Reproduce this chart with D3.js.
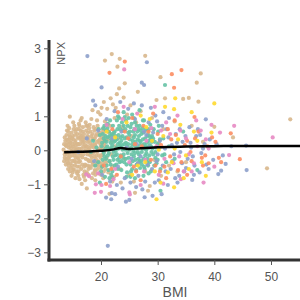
<!DOCTYPE html>
<html><head><meta charset="utf-8">
<script src="https://cdn.jsdelivr.net/npm/d3@7"></script>
<style>body{margin:0;background:#fff}svg{display:block}text{font-family:"Liberation Sans",Arial,sans-serif}</style>
</head><body><svg id="c" width="300" height="300"></svg>
<script>
const xTicks=[20,30,40,50];
const yTicks=[-3,-2,-1,0,1,2,3];
const tanPts=[[13.4,0.02],[13.6,-0.12],[13.8,0.15],[13.9,-0.25],[14.0,0.31],[14.1,-0.05],[14.2,-0.38],[14.3,0.08],[14.4,0.45],[14.5,-0.18],[14.6,0.22],[14.7,-0.52],[14.8,-0.02],[14.9,0.36],[15.0,-0.31],[15.1,0.12],[15.2,0.62],[15.3,-0.15],[15.4,-0.44],[15.5,0.28],[15.6,0.02],[15.7,-0.62],[15.8,0.48],[15.9,-0.22],[14.5,0.99],[16.6,0.95],
[16.0,0.18],[16.1,-0.35],[16.2,0.72],[16.3,-0.08],[16.4,0.38],[16.5,-0.55],[16.6,0.05],[16.7,-0.21],[16.8,0.55],[16.9,-0.72],[17.0,0.25],[17.1,-0.02],[17.2,-0.42],[17.3,0.82],[17.4,0.12],[17.5,-0.65],[17.6,0.42],[17.7,-0.28],[17.8,0.02],[17.9,0.65],[18.0,-0.48],[18.1,0.21],[18.2,-0.12],[18.3,0.92],[18.4,-0.82],[18.5,0.35],[18.6,-0.35],[18.7,0.08],[18.8,0.58],[18.9,-0.58],[16.6,-0.99],[17.5,-1.12],[15.8,-0.68],[16.2,-0.85],[17.0,-0.78],[16.8,0.68],[17.6,0.72],[16.3,0.48],[15.5,0.55],[17.2,0.35],[18.0,0.75],[16.0,-0.62],[17.8,-0.55],[15.2,-0.55],[14.8,-0.75],
[19.0,0.15],[19.1,-0.25],[19.2,0.48],[19.3,-0.05],[19.4,0.72],[19.5,-0.45],[19.6,0.28],[19.7,-0.68],[19.8,0.02],[19.9,1.05],[20.0,-0.15],[20.1,0.38],[20.2,-0.38],[20.3,0.62],[20.4,-0.82],[20.5,0.18],[20.6,-0.02],[20.7,0.85],[20.8,-0.55],[20.9,0.32],[21.0,-0.22],[21.1,1.22],[21.2,0.05],[21.3,-0.65],[21.4,0.52],[21.5,-0.32],[21.6,0.72],[21.7,1.53],[21.8,-0.12],[21.9,0.25],[22.0,-0.48],[22.1,1.35],[22.2,0.45],[22.3,-0.78],[22.4,0.95],[22.5,0.12],[20.1,1.25],[20.7,2.64],[21.9,2.83],[22.9,2.46],[23.3,2.69],[24.2,1.97],[19.5,1.12],[20.5,1.42],[22.8,1.65],[23.2,1.82],[22.6,1.25],
[23.0,0.35],[23.4,-0.55],[23.8,0.68],[24.2,-0.25],[24.6,1.05],[25.0,-0.72],[25.4,0.42],[25.8,-0.92],[26.2,0.82],[26.6,-0.38],[27.0,1.15],[27.4,0.15],[27.8,-0.62],[28.2,0.55],[28.6,-1.05],[29.0,0.95],[29.4,-0.28],[29.8,1.48],[30.2,0.22],[30.6,-0.75],[31.0,0.62],[31.3,1.53],[32.0,-0.45],[33.0,0.85],[34.5,1.51],[35.5,1.54],[36.9,1.99],[37.2,1.43],[37.6,2.26],[30.5,2.15],[27.8,2.78],[26.0,-1.25],[28.3,-1.19],[21.5,-1.28],[40.0,0.69],[43.3,0.38],[49.3,-0.53],[53.4,0.91],[35.0,-0.35],[38.0,0.25],[36.0,0.72],[33.5,-0.62],[25.2,1.32],[24.0,1.55],[26.5,1.72],[23.5,-0.95],[22.0,-0.92],[19.0,-0.88],[18.5,1.18],
[13.5,-0.32],[13.7,0.28],[14.0,-0.12],[14.2,0.55],[14.4,-0.28],[14.6,0.12],[14.9,-0.45],[15.0,0.42],[15.3,0.05],[15.6,-0.35],[15.8,0.18],[16.1,0.62],[16.4,-0.15],[16.7,0.32],[17.0,-0.48],[17.3,0.05],[17.6,-0.12],[17.9,0.28],[18.2,-0.32],[18.5,0.15],[18.8,-0.18],[19.1,0.42],[19.4,-0.32],[19.7,0.22],[20.0,-0.52],[20.3,0.08],[20.6,0.45],[20.9,-0.38],[21.2,0.32],[21.5,0.02],[14.1,0.72],[15.1,0.82],[14.5,-0.62],[15.5,-0.82],[16.4,0.88],[17.2,-0.88],[18.6,-0.68],[19.3,0.88],[13.9,0.45],[14.3,-0.45],[15.9,0.38],[16.9,0.12],[17.7,0.52],[18.3,0.42],[19.6,-0.15],[20.4,0.28],[21.0,0.58],[21.8,0.42],[16.3,-0.32],[15.4,-0.08],
[13.6,0.38],[13.7,-0.05],[13.8,-0.42],[13.9,0.12],[14.0,0.58],[14.1,0.22],[14.2,-0.22],[14.3,0.32],[14.4,-0.08],[14.5,0.38],[14.6,-0.38],[14.7,0.05],[14.8,0.52],[14.9,-0.15],[15.0,0.18],[15.1,-0.58],[15.2,0.32],[15.3,-0.32],[15.4,0.45],[15.5,-0.22],[15.6,0.15],[15.7,0.62],[15.8,-0.48],[15.9,0.05],[16.0,-0.25],[16.1,0.35],[16.2,-0.48],[16.3,0.18],[16.4,0.58],[16.5,-0.05],[16.6,0.42],[16.7,-0.42],[16.8,0.22],[16.9,-0.12],[17.0,0.48],[17.1,-0.62],[17.2,0.15],[17.3,-0.25],[17.4,0.58],[17.5,-0.05],[17.6,0.25],[17.7,-0.45],[17.8,0.38],[17.9,-0.32],[18.0,0.05],[18.1,0.55],[18.2,-0.52],[18.3,0.12],[18.4,-0.22],[18.5,0.48],[18.6,-0.08],[18.7,0.32],[18.8,-0.45],[18.9,0.18],[19.0,-0.62],[19.1,0.62],[19.2,-0.15],[19.3,0.25],[19.4,-0.55],[19.5,0.05],[19.6,0.45],[19.7,-0.35],[19.8,0.32],[19.9,-0.22],[20.0,0.15],[20.1,-0.45],[20.2,0.52],[20.3,-0.12],[20.4,0.35],[20.5,-0.62],[20.6,0.22],[20.7,-0.32],[20.8,0.12],[13.5,0.18],[13.6,-0.22],[14.0,-0.32],[14.3,0.18],[14.7,0.28],[15.0,-0.05],[15.4,0.22],[15.8,-0.12],[16.2,0.05],[16.5,0.28],[16.9,0.38],[17.3,-0.45],[17.7,0.12],[18.1,-0.15],[18.5,-0.42],[18.9,0.35],[19.3,-0.38],[19.7,0.52],[20.1,0.05],[20.5,0.55],[14.4,0.65],[15.3,0.72],[16.1,0.78],[17.4,0.72],[18.7,0.68],[14.2,-0.55],[15.0,-0.65],[16.0,-0.75],[17.8,-0.72],[19.0,-0.72],[20.0,-0.72]];
const greenPts=[[19.2,0.08],[19.5,-0.35],[19.8,0.45],[20.0,-0.62],[20.2,0.22],[20.4,0.65],[20.6,-0.18],[20.8,0.05],[21.0,-0.45],[21.2,0.38],[21.4,-0.08],[21.6,0.88],[21.8,-0.72],[22.0,0.15],[22.2,-0.28],[22.4,0.55],[22.6,-0.02],[22.8,0.32],[23.0,-0.55],[23.2,0.72],[23.4,0.12],[23.6,-0.32],[23.8,0.42],[24.0,-0.12],[24.2,0.98],[24.4,0.22],[24.6,-0.65],[24.8,0.52],[25.0,0.02],[25.2,-0.42],[25.4,0.78],[25.6,0.28],[25.8,-0.18],[26.0,0.45],[26.2,-0.58],[26.4,0.08],[26.6,0.62],[26.8,-0.32],[27.0,0.25],[27.2,-0.05],[27.4,0.88],[27.6,-0.48],[27.8,0.35],[28.0,0.02],[28.2,-0.25],[28.4,0.62],[28.6,0.15],[28.8,-0.62],[29.0,0.42],[29.2,-0.12],[29.5,0.25],[29.8,-0.38],[30.1,0.55],[30.5,-1.19],[31.3,1.92],[19.8,-0.95],[20.5,0.35],[21.1,0.12],[21.5,-0.32],[21.9,0.48],[22.3,0.25],[22.7,-0.42],[23.1,0.05],[23.5,0.38],[23.9,-0.22],[24.3,0.62],[24.7,-0.08],[25.1,0.32],[25.5,-0.55],[25.9,0.15],[26.3,0.72],[26.7,-0.12],[27.1,0.48],[27.5,-0.25],[27.9,0.12],[28.3,-0.45],[28.7,0.38],[29.1,0.05],[29.6,-0.22],[30.0,0.18],[20.3,-0.28],[20.9,0.58],[21.3,-0.58],[21.7,0.22],[22.1,0.72],[22.5,-0.15],[22.9,0.62],[23.3,-0.35],[23.7,0.82],[24.1,0.18],[24.5,-0.42],[24.9,0.95],[25.3,0.08],[25.7,0.55],[26.1,-0.28],[26.5,0.32],[26.9,-0.52],[27.3,0.65],[27.7,0.05],[28.1,-0.35],[28.5,0.28],[28.9,-0.05],[29.3,0.62],[29.7,0.08],[24.0,1.12],[25.5,1.05],[23.0,1.0],[26.8,1.18],[22.0,-0.8],[24.5,-0.78],[26.0,-0.82],[27.5,-0.75],[20.7,-0.78],[30.5,-0.55],[31.0,0.35],[30.8,-0.15],[31.5,-0.35],[32.0,0.12],[33.0,-0.25],[34.5,0.55],[37.0,-0.58],[19.6,0.62],[19.0,-0.45],[18.6,0.28],[18.2,-0.05],
[20.1,0.12],[20.3,0.48],[20.5,-0.08],[20.7,0.28],[20.9,-0.25],[21.1,0.65],[21.3,0.02],[21.5,0.42],[21.7,-0.42],[21.9,0.08],[22.1,-0.18],[22.3,0.52],[22.5,0.28],[22.7,0.08],[22.9,-0.28],[23.1,0.45],[23.3,0.22],[23.5,-0.15],[23.7,0.15],[23.9,0.58],[24.1,-0.35],[24.3,0.02],[24.5,0.38],[24.7,0.72],[24.9,-0.22],[25.1,0.55],[25.3,-0.62],[25.5,0.18],[25.7,-0.02],[25.9,0.62],[26.1,0.25],[26.3,-0.42],[26.5,-0.05],[26.7,0.42],[26.9,0.15],[27.1,-0.32],[27.3,0.05],[27.5,0.52],[27.7,-0.55],[27.9,0.62],[28.1,0.22],[28.3,0.08],[28.5,-0.15],[28.7,0.75],[28.9,0.32],[20.2,-0.48],[20.6,0.72],[21.0,0.25],[21.4,0.55],[21.8,0.32],[22.2,-0.05],[22.6,0.42],[23.0,0.18],[23.4,0.62],[23.8,0.02],[24.2,0.35],[24.6,0.12],[25.0,0.45],[25.4,-0.12],[25.8,0.38],[26.2,0.05],[26.6,-0.25],[27.0,0.58],[27.4,0.32],[27.8,-0.15],[28.2,0.42],[28.6,-0.35],[29.0,0.25],[21.2,-0.15],[21.6,0.05],[22.0,0.45],[22.4,-0.45],[22.8,-0.12],[23.2,-0.22],[23.6,0.28],[24.0,0.72],[24.4,-0.25],[24.8,0.18],[25.2,0.68],[25.6,-0.32],[26.0,-0.08],[26.4,0.55],[26.8,0.28],[27.2,-0.42],[27.6,0.18],[28.0,-0.08],[28.4,0.45],[28.8,0.12],[29.2,0.35],[29.6,-0.05],[20.4,-0.02],[20.8,0.42],[21.2,0.78],[22.0,-0.62],[22.8,0.88],[23.6,-0.58],[24.4,0.88],[25.2,-0.78],[26.0,0.82],[26.8,0.72],[27.6,0.88],[28.4,-0.68],[23.2,0.95],[25.8,0.95],[21.5,-0.82],[30.0,-0.28],[30.4,0.32],[29.4,-0.45],[30.2,0.72],[31.2,-0.12]];
const bluePts=[[17.6,2.77],[28.1,2.59],[20.1,1.85],[27.2,1.99],[27.6,1.92],[18.6,1.46],[21.2,-2.81],[20.9,-1.39],[21.8,-1.44],[22.5,-1.29],[21.9,-1.26],[24.4,-1.51],[25.0,-1.46],[27.7,-1.38],[29.1,-1.34],[30.7,-1.29],[36.1,-0.87],[40.7,-0.70],[41.2,-0.60],[42.0,-0.40],[45.7,-0.58],[38.5,0.91],[45.6,0.14],[16.0,-0.05],[17.5,0.35],[18.8,-0.32],[19.5,0.58],[20.2,-0.72],[21.0,0.92],[21.6,-0.92],[22.4,1.15],[23.0,-0.48],[23.6,0.55],[24.2,-0.82],[24.8,1.22],[25.4,-0.25],[26.0,0.92],[26.6,-0.75],[27.2,1.32],[27.8,-0.92],[28.4,0.82],[29.0,-0.55],[29.6,1.02],[30.2,-0.88],[30.8,0.72],[31.4,-0.62],[32.0,0.95],[32.6,-0.32],[33.2,0.48],[33.8,-0.75],[34.4,0.25],[35.0,-0.52],[35.6,0.68],[36.2,-0.18],[36.8,0.42],[37.4,-0.65],[38.0,0.05],[38.6,-0.42],[39.2,0.32],[39.8,-0.28],[40.4,0.18],[41.5,-0.15],[43.0,0.12],[19.0,1.32],[23.4,1.42],[25.8,1.38],[28.8,1.25],[31.0,1.12],[22.0,0.35],[24.5,0.08],[26.5,-0.38],[28.0,0.45],[30.0,-0.12],[32.5,0.15],[34.0,-0.05],[35.8,0.22],[37.5,0.45],[29.5,-0.95],[31.8,-1.02],[33.5,-0.95],[26.2,-1.08],[23.8,-1.12],
[26.3,0.18],[27.0,-0.18],[27.6,0.55],[28.2,-0.42],[28.6,0.08],[29.2,0.52],[29.8,-0.32],[30.4,0.28],[30.9,-0.45],[31.3,0.05],[31.9,0.38],[32.3,-0.55],[32.9,-0.12],[33.4,0.22],[33.9,0.62],[34.3,-0.38],[34.9,0.42],[35.3,-0.25],[35.9,0.08],[36.5,-0.45],[37.1,0.62],[37.7,-0.08],[38.3,0.18],[39.0,-0.55],[29.9,0.85],[31.6,0.62],[33.1,-0.82],[34.7,-0.62],[36.4,-0.72],[25.2,-0.95],[27.3,-1.15],[22.8,-1.02]];
const orangePts=[[24.2,2.61],[21.5,2.28],[32.5,2.24],[34.2,2.36],[32.9,1.84],[20.9,-0.99],[42.9,0.50],[44.5,-0.26],[20.5,-0.45],[22.0,0.62],[23.5,-0.18],[24.8,0.35],[26.2,-0.62],[27.5,0.72],[28.8,-0.28],[30.0,0.48],[31.2,-0.48],[32.4,0.32],[33.6,-0.58],[34.8,0.15],[36.0,-0.32],[37.2,0.55],[38.4,-0.15],[39.6,0.38],[40.8,-0.22],[25.5,0.95],[29.2,1.08],[33.0,0.88],[36.5,0.98],[27.0,-0.88],[31.5,-0.82],[35.2,-0.72],[38.0,-0.45],[23.0,1.12],[22.8,-0.72],[39.0,-0.38],[37.8,-0.22],[26.0,0.18],
[28.4,0.55],[29.6,-0.45],[30.6,0.15],[31.8,0.62],[32.2,-0.18],[33.2,0.45],[34.2,-0.35],[35.2,0.28],[35.8,-0.05],[36.6,0.35],[38.8,0.12],[30.4,-0.62],[27.2,0.12],[25.8,-0.48],[24.2,0.55],[21.8,-0.55],[40.2,0.25],[41.2,-0.35]];
const pinkPts=[[24.1,2.38],[19.1,-1.0],[20.1,-1.02],[18.9,-1.25],[20.0,-1.22],[21.6,-1.05],[25.0,-1.24],[25.1,-1.30],[17.9,-0.76],[17.4,-0.71],[34.1,-0.85],[38.1,-0.95],[42.6,-0.14],[43.5,0.72],[50.3,0.38],[41.0,0.52],[21.0,0.75],[22.5,-0.55],[23.8,0.92],[25.0,-0.35],[26.4,1.08],[27.6,-0.62],[28.9,0.65],[30.2,-0.72],[31.5,0.82],[32.8,-0.38],[34.0,0.58],[35.5,-0.12],[36.8,0.88],[38.5,0.32],[40.0,-0.48],[39.5,0.75],[29.5,1.28],[33.5,1.02],[24.0,1.28],[19.5,-0.68],[27.0,-1.02],[31.0,-0.98],[36.0,-0.62],[28.0,0.28],[37.0,0.12],
[29.8,0.12],[31.2,-0.25],[32.2,0.48],[33.8,-0.18],[35.0,0.35],[36.4,-0.38],[37.6,0.58],[30.6,0.58],[27.8,-0.28],[26.0,0.62],[34.6,-0.62],[22.2,-0.85],[39.0,0.05]];
const yellowPts=[[33.1,1.53],[40.0,1.38],[31.3,1.28],[32.9,1.21],[32.9,-1.09],[29.8,-1.44],[30.5,-0.95],[24.5,0.82],[26.5,-0.45],[28.0,0.68],[29.5,-0.62],[31.0,0.42],[32.5,-0.35],[34.0,0.75],[35.5,-0.55],[37.0,0.28],[38.5,-0.75],[27.0,1.02],[25.5,-0.72],[22.5,0.38],[36.0,1.12],[21.0,0.55],[33.0,0.05],[39.5,0.52],
[30.2,0.02],[31.8,-0.65],[33.6,0.32],[35.0,-0.15],[36.4,0.55],[29.0,0.28],[34.6,-0.82],[27.8,-0.35],[28.6,0.92],[37.8,-0.35]];
const trendBMI=[13.5,16,18,20,22,23.5,25,27,30,35,40,45,55.2];
const trendNPX=[-0.06,-0.045,-0.035,-0.015,0.02,0.07,0.035,0.06,0.09,0.11,0.12,0.13,0.13];
const groups=[{pts:tanPts,color:"#d8b78c"},{pts:greenPts,color:"#66c2a5"},{pts:bluePts,color:"#8da0cb"},{pts:orangePts,color:"#fc8d62"},{pts:pinkPts,color:"#e78ac3"},{pts:yellowPts,color:"#ffd92f"}];

const svg=d3.select("#c");
const x=d3.scaleLinear().domain([11,55.12]).range([50,300]);
const y=d3.scaleLinear().domain([-3.226,3.244]).range([260,40]);

const g=svg.append("g");
groups.forEach(gr=>{
  g.selectAll(null).data(gr.pts).enter().append("circle")
   .attr("cx",d=>x(d[0])).attr("cy",d=>y(d[1])).attr("r",2.1)
   .attr("fill",gr.color).attr("fill-opacity",0.9);
});
const line=d3.line().x((d,i)=>x(trendBMI[i])).y((d,i)=>y(trendNPX[i])).curve(d3.curveMonotoneX);
svg.append("path").datum(trendBMI).attr("d",line).attr("fill","none").attr("stroke","#000").attr("stroke-width",2.5);

const ya=svg.append("g").attr("transform","translate(49,0)")
  .call(d3.axisLeft(y).tickValues(yTicks).tickSize(5).tickSizeOuter(0).tickFormat(d3.format("d")));
const xa=svg.append("g").attr("transform","translate(0,260)")
  .call(d3.axisBottom(x).tickValues(xTicks).tickSize(5).tickSizeOuter(0));
[ya,xa].forEach(a=>{
  a.select(".domain").attr("stroke","#333").attr("stroke-width",3);
  a.selectAll(".tick line").attr("stroke","#555");
  a.selectAll(".tick text").attr("fill","#555").attr("font-size",12).attr("font-family","Liberation Sans, Arial, sans-serif");
});
ya.select(".domain").attr("d","M0,40V261.5");
xa.select(".domain").attr("d","M47.5,0H300");
xa.selectAll(".tick text").attr("dy","1.1em");

svg.append("text").attr("x",175).attr("y",297).attr("text-anchor","middle").attr("fill","#555").attr("font-size",14).text("BMI");
svg.append("text").attr("transform","translate(65,42) rotate(-90)").attr("text-anchor","end").attr("fill","#555").attr("font-size",11).text("NPX");
</script></body></html>
